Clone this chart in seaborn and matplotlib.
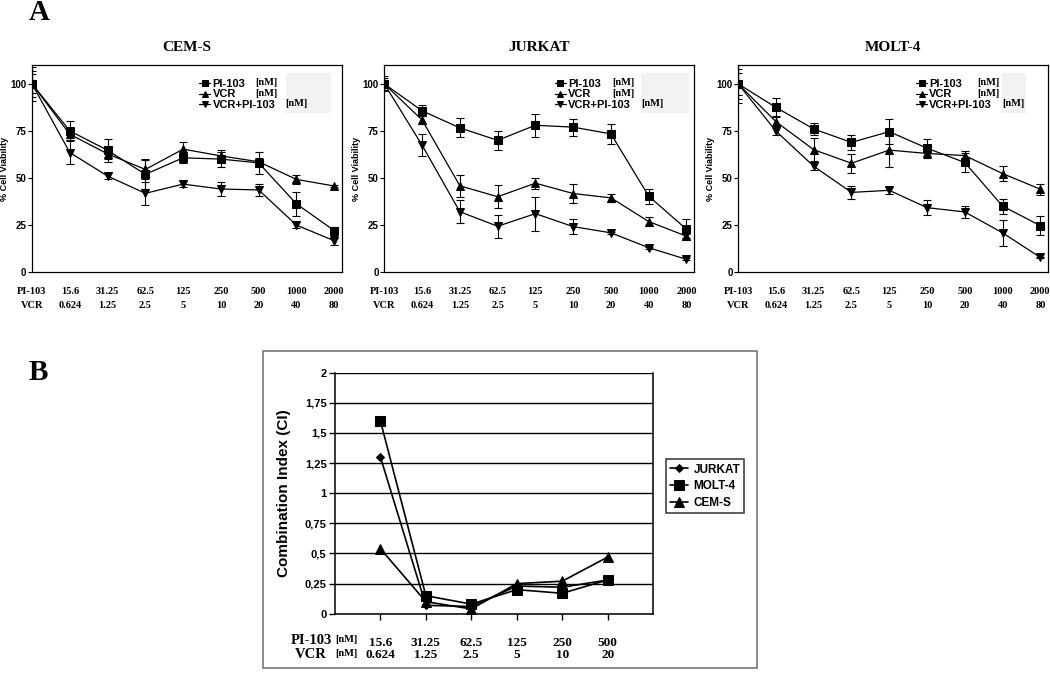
import pandas as pd
import seaborn as sns
import matplotlib.pyplot as plt
from matplotlib.patches import Rectangle

# dose labels, panel A (first column is the row heading / untreated control)
pi_labels = ["PI-103", "15.6", "31.25", "62.5", "125", "250", "500", "1000", "2000"]
vcr_labels = ["VCR", "0.624", "1.25", "2.5", "5", "10", "20", "40", "80"]
treatments = ["PI-103", "VCR", "VCR+PI-103"]

# % cell viability (mean, error) per cell line
cems_pi = [100, 75, 64.7, 51.9, 60.7, 60, 58, 36.2, 22]
cems_pi_err = [9, 5, 6, 8, 3, 4, 6, 6.5, 2]
cems_vcr = [100, 73.2, 62.8, 54.5, 65.3, 61.7, 58.6, 49.2, 45.7]
cems_vcr_err = [7, 3, 3, 5, 4, 3, 2, 2.5, 0.5]
cems_combo = [100, 63.5, 51, 41.8, 46.7, 44.1, 43.6, 24.9, 16.6]
cems_combo_err = [5, 6, 1.5, 6, 1.5, 3.5, 3, 1.5, 2.5]

jurkat_pi = [100, 85.7, 76.6, 70, 78, 77, 73.4, 40.3, 22.7]
jurkat_pi_err = [4, 3, 5, 5, 6, 4.5, 5.5, 4, 5.5]
jurkat_vcr = [100, 80.8, 45.8, 40, 47.2, 41.7, 39.4, 26.8, 19]
jurkat_vcr_err = [3, 2, 6, 6, 3, 5, 2, 2.5, 1]
jurkat_combo = [100, 67.4, 32, 24.3, 31, 24.1, 20.8, 12.9, 6.7]
jurkat_combo_err = [2, 6, 6, 6, 9, 4, 0.5, 0.5, 0.5]

molt4_pi = [100, 87.5, 76, 68.9, 74.6, 65.8, 58.2, 35, 24.6]
molt4_pi_err = [8, 5, 3, 4, 6.5, 5, 5, 4, 5]
molt4_vcr = [100, 79.9, 65, 57.8, 64.8, 63, 61.9, 52.3, 44]
molt4_vcr_err = [6, 3, 6, 5, 9, 2, 2.5, 4, 3]
molt4_combo = [100, 74.9, 56.2, 42.3, 43.4, 34.2, 31.9, 20.8, 7.7]
molt4_combo_err = [10, 2, 2, 3.5, 2, 4, 3, 7, 0.5]

# panel B: combination index
ci_pi = ["15.6", "31.25", "62.5", "125", "250", "500"]
ci_vcr = ["0.624", "1.25", "2.5", "5", "10", "20"]
ci_lines = ["JURKAT", "MOLT-4", "CEM-S"]
ci_jurkat = [1.30, 0.07, 0.06, 0.23, 0.22, 0.28]
ci_molt4 = [1.60, 0.15, 0.08, 0.20, 0.17, 0.28]
ci_cems = [0.54, 0.10, 0.04, 0.25, 0.27, 0.47]

sns.set_theme(style="white")
plt.rcParams["font.family"] = ["Liberation Sans", "DejaVu Sans"]
plt.rcParams.update({"text.color": "black", "axes.labelcolor": "black",
                     "xtick.color": "black", "ytick.color": "black"})
SERIF = ["Liberation Serif", "DejaVu Serif"]

fig = plt.figure(figsize=(10.5, 6.85), dpi=100)

# title, axes left, legend x, "[nM]" x (rows 1-2, row 3), grey patch x range
panels = [
    ("CEM-S", 0.0305, [cems_pi, cems_vcr, cems_combo], [cems_pi_err, cems_vcr_err, cems_combo_err],
     0.54, 0.72, 0.817, (0.82, 0.965)),
    ("JURKAT", 0.366, [jurkat_pi, jurkat_vcr, jurkat_combo], [jurkat_pi_err, jurkat_vcr_err, jurkat_combo_err],
     0.55, 0.735, 0.828, (0.83, 0.985)),
    ("MOLT-4", 0.703, [molt4_pi, molt4_vcr, molt4_combo], [molt4_pi_err, molt4_vcr_err, molt4_combo_err],
     0.574, 0.772, 0.853, (0.853, 0.93)),
]
markers_a = dict(zip(treatments, ["s", "^", "v"]))

for title, left, series, errs, leg_x, nm_x, nm_x3, grey in panels:
    ax = fig.add_axes([left, 0.603, 0.295, 0.302])
    rows = []
    for name, vals in zip(treatments, series):
        for i, v in enumerate(vals):
            rows.append({"pos": i, "viability": v, "treatment": name})
    df = pd.DataFrame(rows)
    sns.lineplot(data=df, x="pos", y="viability", hue="treatment", style="treatment",
                 markers=markers_a, dashes=False, palette=["black"] * 3,
                 markersize=5.5, markeredgecolor="black", linewidth=0.9, ax=ax)
    for vals, err in zip(series, errs):
        ax.errorbar(range(len(vals)), vals, yerr=err, fmt="none", ecolor="black",
                    elinewidth=0.8, capsize=3, capthick=0.8)
    ax.set_xlim(0, 8.2)
    ax.set_ylim(0, 110)
    ax.set_yticks([0, 25, 50, 75, 100])
    ax.set_yticklabels(["0", "25", "50", "75", "100"], fontsize=7, fontweight="bold")
    ax.set_xticks(range(len(pi_labels)))
    ax.set_xticklabels([f"{p}\n{v}" for p, v in zip(pi_labels, vcr_labels)],
                       fontsize=7.5, fontweight="bold", family=SERIF, linespacing=1.75)
    ax.tick_params(axis="x", length=0, pad=11)
    ax.tick_params(axis="y", length=3, width=0.8, direction="out", pad=1, left=True)
    ax.set_xlabel("")
    ax.set_ylabel("% Cell Viability", fontsize=6.5, fontweight="bold", labelpad=1)
    ax.set_title(title, fontsize=11, fontweight="bold", family=SERIF, pad=10)
    for s in ax.spines.values():
        s.set_color("black")
        s.set_linewidth(0.9)
    ax.add_patch(Rectangle((grey[0], 0.768), grey[1] - grey[0], 0.193,
                           transform=ax.transAxes, color="#f2f2f2", zorder=0, lw=0))
    h, l = ax.get_legend_handles_labels()
    ax.legend(h, l, loc="upper left", bbox_to_anchor=(leg_x, 0.934), frameon=False,
              handlelength=1.0, handletextpad=0.2, labelspacing=0.06, borderpad=0,
              borderaxespad=0, markerscale=0.75, prop={"weight": "bold", "size": 8})
    for yy, xx in zip([0.918, 0.865, 0.815], [nm_x, nm_x, nm_x3]):
        ax.text(xx, yy, "[nM]", transform=ax.transAxes, ha="left", va="center",
                fontsize=7.5, fontweight="bold", family=SERIF)

# panel B
axb = fig.add_axes([0.319, 0.104, 0.303, 0.352])
rows = []
for name, vals in zip(ci_lines, [ci_jurkat, ci_molt4, ci_cems]):
    for i, v in enumerate(vals):
        rows.append({"pos": i + 1, "ci": v, "line": name})
dfb = pd.DataFrame(rows)
sns.lineplot(data=dfb, x="pos", y="ci", hue="line", style="line",
             markers=dict(zip(ci_lines, ["D", "s", "^"])), dashes=False,
             palette=["black"] * 3, markersize=6.5, markeredgecolor="black",
             linewidth=1.2, ax=axb)
for ln in axb.lines:
    if ln.get_marker() == "D":
        ln.set_markersize(4.5)
axb.set_xlim(0, 7)
axb.set_ylim(0, 2)
yt = [0, 0.25, 0.5, 0.75, 1, 1.25, 1.5, 1.75, 2]
axb.set_yticks(yt)
axb.set_yticklabels(["0", "0,25", "0,5", "0,75", "1", "1,25", "1,5", "1,75", "2"],
                    fontsize=8, fontweight="bold")
axb.yaxis.grid(True, color="black", linewidth=1)
axb.xaxis.grid(False)
axb.set_xticks(range(1, 7))
axb.set_xticklabels([f"{p}\n{v}" for p, v in zip(ci_pi, ci_vcr)],
                    fontsize=9.5, fontweight="bold", family=SERIF, linespacing=0.95)
axb.tick_params(axis="x", length=4, width=1, direction="out", pad=13, bottom=True)
axb.tick_params(axis="y", length=4, width=1, direction="out", pad=2, left=True)
axb.set_xlabel("")
axb.set_ylabel("Combination Index (CI)", fontsize=11, fontweight="bold", labelpad=10)
for side, s in axb.spines.items():
    s.set_color("black")
    s.set_linewidth(1.1)
axb.spines["top"].set_visible(False)
h, l = axb.get_legend_handles_labels()
leg = axb.legend(h, l, loc="upper left", bbox_to_anchor=(1.04, 0.64), frameon=True,
                 fancybox=False, edgecolor="black", handlelength=1.5, handletextpad=0.5,
                 labelspacing=0.4, borderpad=0.35, borderaxespad=0,
                 prop={"weight": "bold", "size": 8.5})
leg.get_frame().set_linewidth(1.1)

fig.text(332 / 1050, 1 - 640 / 685, "PI-103", ha="right", va="center", fontsize=10.5,
         fontweight="bold", family=SERIF)
fig.text(335 / 1050, 1 - 640 / 685, "[nM]", ha="left", va="center", fontsize=7.5,
         fontweight="bold", family=SERIF)
fig.text(327 / 1050, 1 - 654 / 685, "VCR", ha="right", va="center", fontsize=10.5,
         fontweight="bold", family=SERIF)
fig.text(335 / 1050, 1 - 654 / 685, "[nM]", ha="left", va="center", fontsize=7.5,
         fontweight="bold", family=SERIF)

fig.add_artist(Rectangle((263 / 1050, 17 / 685), 494 / 1050, 317 / 685,
                         transform=fig.transFigure, fill=False, edgecolor="#777777", lw=1.2))

fig.text(39 / 1050, 1 - 13 / 685, "A", ha="center", va="center", fontsize=21,
         fontweight="bold", family=SERIF)
fig.text(38 / 1050, 1 - 372 / 685, "B", ha="center", va="center", fontsize=21,
         fontweight="bold", family=SERIF)

fig.savefig("out.png", dpi=100)
